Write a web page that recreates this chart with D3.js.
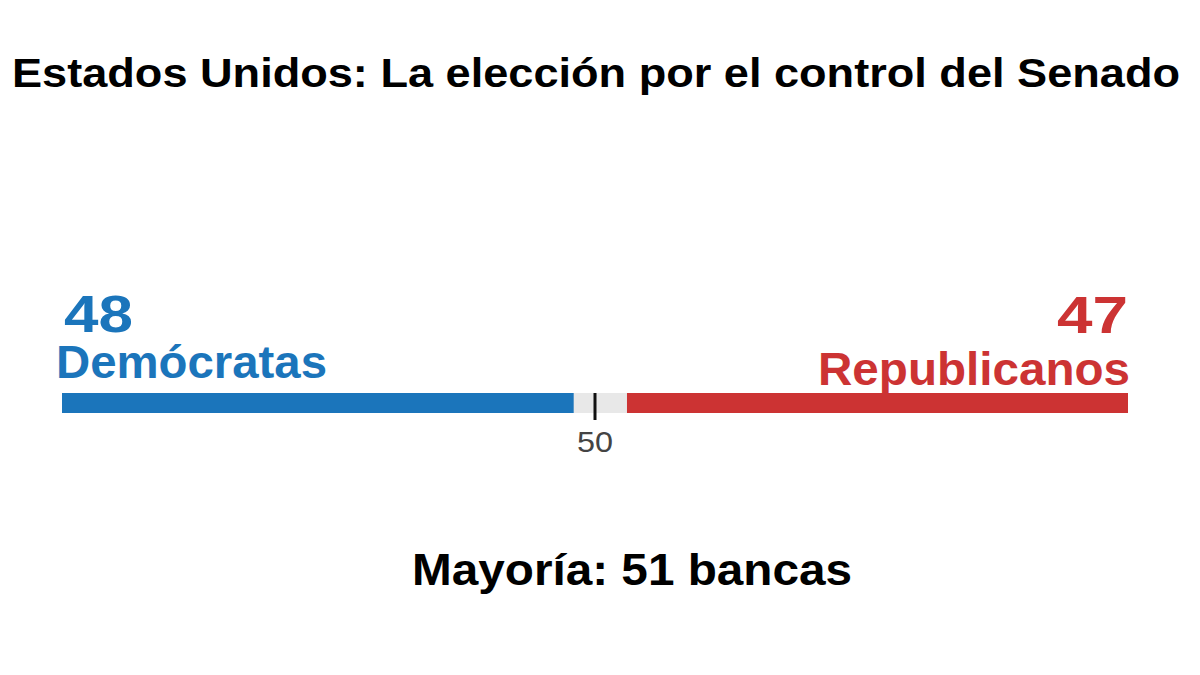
<!DOCTYPE html><html><head><meta charset="utf-8">
<script src="https://cdn.jsdelivr.net/npm/d3@7"></script>
<style>body{margin:0;background:#fff}</style></head><body>
<script>
const parties = ["Demócratas","Republicanos"];
const seats = [48,47];
const totalSeats = 100;
const majorityTick = 50;
const title = "Estados Unidos: La elección por el control del Senado";
const footer = "Mayoría: 51 bancas";
const colors = ["#1b75bb","#cc3333"];
const W=1200,H=675;
const svg=d3.select("body").append("svg").attr("width",W).attr("height",H);
const font="Liberation Sans, Arial, sans-serif";
function t(x,y,anchor,size,weight,fill,txt,len){
  const e=svg.append("text").attr("x",x).attr("y",y).attr("text-anchor",anchor).attr("font-family",font)
   .attr("font-weight",weight).attr("font-size",size).attr("fill",fill).text(txt);
  if(len) e.attr("textLength",len).attr("lengthAdjust","spacingAndGlyphs");
  return e;
}
t(596,87,"middle",40,"bold","#000",title,1168);
const x=d3.scaleLinear().domain([0,totalSeats]).range([62,1128]);
const y0=393,h=20;
svg.append("rect").attr("x",x(0)).attr("y",y0).attr("width",x(totalSeats)-x(0)).attr("height",h).attr("fill","#e8e8e8");
svg.append("rect").attr("x",x(0)).attr("y",y0).attr("width",x(seats[0])-x(0)).attr("height",h).attr("fill",colors[0]);
svg.append("rect").attr("x",x(totalSeats-seats[1])).attr("y",y0).attr("width",x(totalSeats)-x(totalSeats-seats[1])).attr("height",h).attr("fill",colors[1]);
svg.append("line").attr("x1",x(majorityTick)).attr("x2",x(majorityTick)).attr("y1",y0).attr("y2",420).attr("stroke","#111").attr("stroke-width",3);
t(x(majorityTick),452,"middle",30,"normal","#444",majorityTick,36);
t(64,332,"start",52,"bold",colors[0],seats[0],69);
t(56,378,"start",46,"bold",colors[0],parties[0],271);
t(1128,333,"end",52,"bold",colors[1],seats[1],71);
t(1130,385,"end",46,"bold",colors[1],parties[1],312);
t(632,585,"middle",44,"bold","#000",footer,440);
</script></body></html>
